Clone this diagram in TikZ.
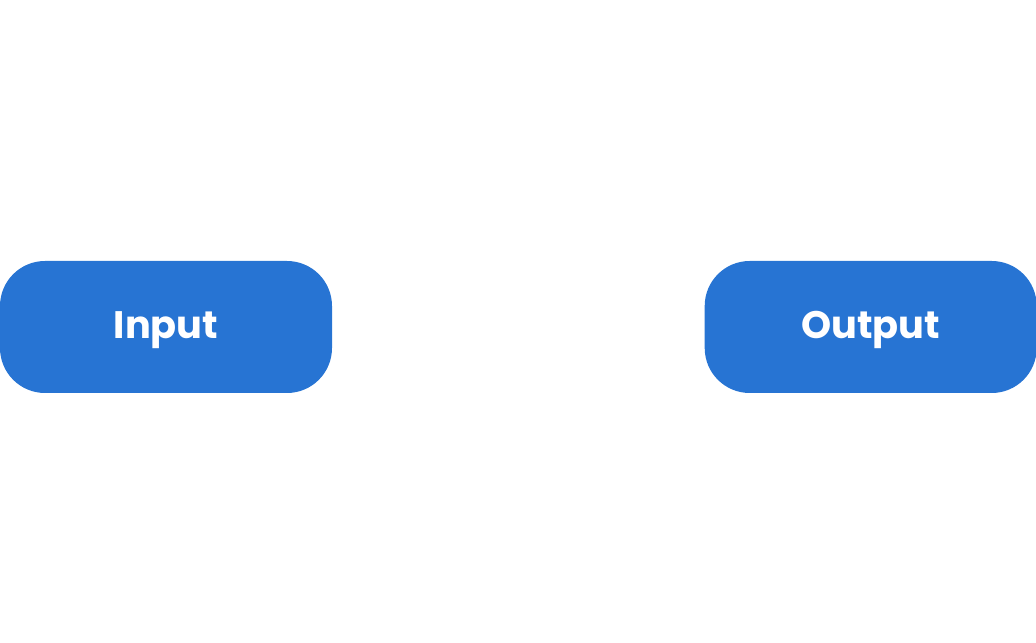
\documentclass[tikz,border=0pt]{standalone}
\usepackage{fontspec}
\setmainfont{Poppins}
\usetikzlibrary{positioning}
\definecolor{c1}{RGB}{39, 116, 211}
\tikzset{
	auto,
	pill/.style={
		rectangle, minimum width=6.64cm, minimum height=2.64cm, rounded corners=9mm,
		fill=c1, draw=none, text=white, font=\fontsize{21.8}{26}\selectfont\bfseries,
		text height=1.3em, text depth=0pt
	}
}

\begin{document}
\begin{tikzpicture}
    \useasboundingbox (0,0) rectangle (20.72,12.84);
    \node(in)[pill] at (3.32,6.3) {Input};
    \node(out)[pill, right=7.44cm of in] {Output};
\end{tikzpicture}
\end{document}
